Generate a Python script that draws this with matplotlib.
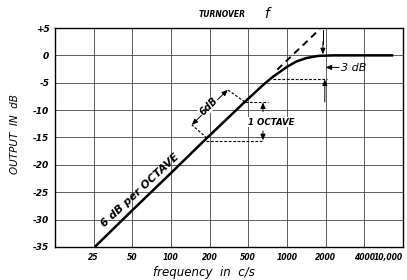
import matplotlib
matplotlib.use("Agg")
import matplotlib.pyplot as plt

# axis labels (x grid is evenly spaced, not log)
freq_labels = ["25", "50", "100", "200", "500", "1000", "2000", "4000", "10,000"]
db_ticks = [5, 0, -5, -10, -15, -20, -25, -30, -35]
db_labels = ["+5", "0", "-5", "-10", "-15", "-20", "-25", "-30", "-35"]

# response curve, x in grid divisions from left border
curve_x = [1.03, 2.0, 3.0, 3.93, 4.91, 5.4, 5.64, 6.0, 6.25, 6.5, 6.8, 7.2, 8.75]
curve_db = [-35, -28.3, -21.5, -15.1, -8.5, -5.3, -3.9, -2.1, -1.1, -0.5, -0.1, 0, 0]

# dashed asymptote beyond the turnover
asym_x = [5.75, 6.85]
asym_db = [-2.6, 4.8]

fig = plt.figure(figsize=(4.07, 2.8), dpi=100)
ax = fig.add_axes([0.135, 0.118, 0.855, 0.782])

ax.set_xlim(0, 9)
ax.set_ylim(-35, 5)
ax.set_xticks(range(1, 10))
ax.set_xticklabels(freq_labels, fontsize=5.5, style="italic", fontweight="bold")
ax.get_xticklabels()[-1].set_horizontalalignment("right")
ax.set_yticks(db_ticks)
ax.set_yticklabels(db_labels, fontsize=6.5, style="italic", fontweight="bold")
ax.tick_params(length=0, pad=4)
ax.grid(True, color="#444444", lw=0.6)
for s in ax.spines.values():
    s.set_linewidth(1.0)

ax.plot(curve_x, curve_db, color="black", lw=1.8, solid_capstyle="butt", zorder=5)
ax.plot(asym_x, asym_db, color="black", lw=1.4, ls=(0, (3.5, 2.5)), zorder=5)

dash = dict(color="black", lw=0.8, ls=(0, (2.5, 1.5)), zorder=4)
arr = dict(arrowstyle="-|>,head_length=0.35,head_width=0.15", color="black", lw=0.7,
           shrinkA=0, shrinkB=0)

# turnover: drop from asymptote to 0 dB
ax.plot([6.93, 6.93], [4.6, 2.0], color="black", lw=0.7)
ax.annotate("", xy=(6.93, 0.2), xytext=(6.93, 2.5), arrowprops=arr)

# -3 dB level
ax.plot([5.64, 7.03], [-4.3, -4.3], **dash)
ax.annotate("", xy=(6.98, -4.4), xytext=(6.98, -8.5), arrowprops=arr)
ax.annotate("", xy=(7.0, -2.2), xytext=(7.35, -2.2), arrowprops=arr)
ax.text(7.4, -2.3, "3 dB", fontsize=8, style="italic", va="center", ha="left")

# 6 dB dimension along the slope
ax.plot([3.93, 3.54], [-15.1, -12.7], **dash)
ax.plot([4.91, 4.47], [-8.5, -6.3], **dash)
ax.annotate("", xy=(3.54, -12.7), xytext=(4.0, -9.5), arrowprops=arr)
ax.annotate("", xy=(4.47, -6.3), xytext=(4.0, -9.5), arrowprops=arr)
ax.text(3.98, -9.4, "6dB", fontsize=7, style="italic", fontweight="bold", rotation=45,
        ha="center", va="center", bbox=dict(fc="white", ec="none", pad=0.3), zorder=6)

# 1 octave dimension
ax.plot([4.91, 5.51], [-8.5, -8.5], **dash)
ax.plot([3.9, 5.35], [-15.6, -15.6], **dash)
ax.annotate("", xy=(5.38, -8.6), xytext=(5.38, -10.3), arrowprops=arr)
ax.annotate("", xy=(5.38, -15.5), xytext=(5.38, -13.8), arrowprops=arr)
ax.text(5.0, -12.2, "1 OCTAVE", fontsize=6.2, style="italic", fontweight="bold",
        ha="left", va="center", bbox=dict(fc="white", ec="none", pad=0.3), zorder=6)

ax.text(2.2, -24.6, "6 dB per OCTAVE", fontsize=7.8, style="italic", fontweight="bold",
        rotation=43, ha="center", va="center", rotation_mode="anchor")

fig.text(0.545, 0.947, "TURNOVER", fontsize=5.5, style="italic", fontweight="bold",
         ha="center", va="center")
fig.text(0.656, 0.95, "f", fontsize=10, style="italic", ha="center", va="center")
fig.text(0.037, 0.52, "OUTPUT  IN  dB", fontsize=7.5, style="italic", rotation=90,
         ha="center", va="center")
fig.text(0.5, 0.028, "frequency  in  c/s", fontsize=8.5, style="italic",
         ha="center", va="center")

fig.savefig("out.png", dpi=100)
